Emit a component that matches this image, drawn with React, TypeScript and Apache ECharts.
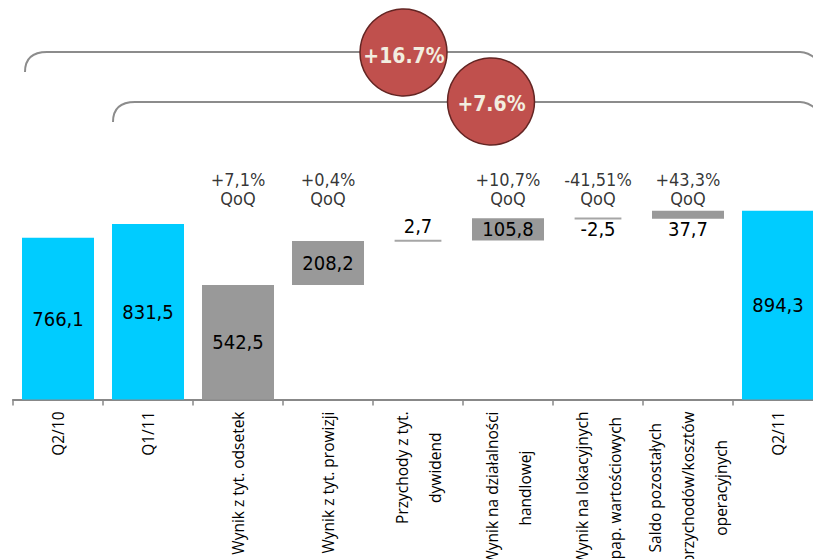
import React, { useEffect, useRef } from 'react';
import * as echarts from 'echarts';

const categories = [
  'Q2/10',
  'Q1/11',
  'Wynik z tyt. odsetek',
  'Wynik z tyt. prowizji',
  'Przychody z tyt.\ndywidend',
  'Wynik na działalności\nhandlowej',
  'Wynik na lokacyjnych\npap. wartościowych',
  'Saldo pozostałych\nprzychodów/kosztów\noperacyjnych',
  'Q2/11',
];
const totalValues: (number | null)[] = [766.1, 831.5, null, null, null, null, null, null, 894.3];
const deltaValues: (number | null)[] = [null, null, 542.5, 208.2, 2.7, 105.8, -2.5, 37.7, null];
const qoqLabels = ['', '', '+7,1%', '+0,4%', '', '+10,7%', '-41,51%', '+43,3%', ''];
const badgeLabels = ['+16.7%', '+7.6%'];

const NUM_FONT = '"DejaVu Sans Condensed", "DejaVu Sans", sans-serif';
const AXIS_FONT = '"Open Sans", "Noto Sans", sans-serif';
const QOQ_Y = 1000;

const fmt = (v: number) => String(v).replace('.', ',');

echarts.graphic.registerShape(
  'bracket1',
  echarts.graphic.extendPath('M25 72 Q25 52 47 52 L800 52 Q808 52 816 59', {})
);
echarts.graphic.registerShape(
  'bracket2',
  echarts.graphic.extendPath('M113 122 Q113 102 135 102 L800 102 Q808 102 816 109', {})
);

export default function App() {
  const ref = useRef<HTMLDivElement>(null);
  useEffect(() => {
    if (!ref.current) return;
    document.body.style.overflow = 'hidden';
    document.documentElement.style.overflow = 'hidden';
    const chart = echarts.init(ref.current, null, { renderer: 'svg' });

    // waterfall data built from deltas
    const deltaData: number[][] = [];
    let run = 0;
    deltaValues.forEach((d, i) => {
      if (d == null) return;
      const base = run;
      run += d;
      deltaData.push([i, base, run, d]);
    });

    const qoqData = qoqLabels
      .map((t, i) => (t ? { name: t, value: [i, QOQ_Y] } : null))
      .filter(Boolean);

    const option: any = {
      animation: false,
      grid: {
        left: 13,
        right: 0,
        top: 167.4,
        bottom: 159.5,
        containLabel: false,
        outerBoundsMode: 'none',
      },
      xAxis: {
        type: 'category',
        data: categories,
        boundaryGap: true,
        axisLine: { lineStyle: { color: '#888', width: 2 } },
        axisTick: { show: true, length: 6, lineStyle: { color: '#888', width: 1.5 } },
        axisLabel: {
          rotate: 90,
          interval: 0,
          margin: 12,
          color: '#000',
          formatter: (v: string) =>
            v
              .split('\n')
              .map((l) => `{a|${l}}`)
              .join('\n'),
          rich: {
            a: {
              align: 'center',
              fontSize: 15.5,
              lineHeight: 33,
              fontFamily: AXIS_FONT,
              color: '#000',
            },
          },
        },
      },
      yAxis: { type: 'value', min: 0, max: 1100, show: false, splitLine: { show: false } },
      series: [
        {
          type: 'bar',
          data: totalValues.map((v) => (v == null ? '-' : v)),
          barWidth: '80%',
          itemStyle: { color: '#00CCFF' },
          label: {
            show: true,
            position: 'inside',
            formatter: (p: any) => fmt(p.value),
            fontSize: 20,
            fontFamily: NUM_FONT,
            color: '#000',
          },
        },
        {
          type: 'custom',
          data: deltaData,
          encode: { x: 0, y: [1, 2] },
          renderItem: (params: any, api: any) => {
            const i = api.value(0);
            const b = api.value(1);
            const e = api.value(2);
            const d = api.value(3);
            const p0 = api.coord([i, b]);
            const p1 = api.coord([i, e]);
            const catW = api.size([1, 0])[0];
            const thin = Math.abs(d) < 10;
            const w = thin ? catW * 0.52 : catW * 0.8;
            const x = p0[0];
            let top = Math.min(p0[1], p1[1]);
            let h = Math.abs(p0[1] - p1[1]);
            if (thin) {
              const c = (p0[1] + p1[1]) / 2;
              top = c - 1;
              h = 2;
            }
            const children: any[] = [
              {
                type: 'rect',
                shape: { x: x - w / 2, y: top, width: w, height: h },
                style: { fill: thin ? '#A6A6A6' : '#999999' },
              },
            ];
            let ly = top + h / 2;
            let va = 'middle';
            if (thin && d > 0) {
              ly = top - 4;
              va = 'bottom';
            } else if (thin || h < 16) {
              ly = top + h;
              va = 'top';
            }
            children.push({
              type: 'text',
              style: {
                text: fmt(d),
                x,
                y: ly,
                align: 'center',
                verticalAlign: va,
                fontSize: 20,
                fontFamily: NUM_FONT,
                fill: '#000',
              },
            });
            return { type: 'group', children };
          },
        },
        {
          type: 'scatter',
          data: qoqData,
          symbolSize: 0,
          silent: true,
          label: {
            show: true,
            position: 'inside',
            formatter: (p: any) => `${p.name}\nQoQ`,
            fontSize: 18,
            lineHeight: 19,
            fontFamily: NUM_FONT,
            color: '#000',
          },
        },
      ],
      graphic: [
        { type: 'bracket1', x: 0, y: 0, z: 1, style: { fill: 'none', stroke: '#8C8C8C', lineWidth: 2 } },
        { type: 'bracket2', x: 0, y: 0, z: 1, style: { fill: 'none', stroke: '#8C8C8C', lineWidth: 2 } },
        {
          type: 'circle',
          z: 2,
          shape: { cx: 403.5, cy: 52.5, r: 43.5 },
          style: { fill: '#C0504D', stroke: '#632523', lineWidth: 1.5 },
        },
        {
          type: 'text',
          z: 3,
          style: {
            text: badgeLabels[0],
            x: 404,
            y: 55.5,
            align: 'center',
            verticalAlign: 'middle',
            fontSize: 21,
            fontWeight: 'bold',
            fontFamily: NUM_FONT,
            fill: '#F2EEE0',
          },
        },
        {
          type: 'circle',
          z: 2,
          shape: { cx: 491, cy: 101.5, r: 43.5 },
          style: { fill: '#C0504D', stroke: '#632523', lineWidth: 1.5 },
        },
        {
          type: 'text',
          z: 3,
          style: {
            text: badgeLabels[1],
            x: 491.5,
            y: 103.5,
            align: 'center',
            verticalAlign: 'middle',
            fontSize: 21,
            fontWeight: 'bold',
            fontFamily: NUM_FONT,
            fill: '#F2EEE0',
          },
        },
      ],
    };
    chart.setOption(option);
    return () => chart.dispose();
  }, []);
  return (
    <div
      ref={ref}
      style={{ position: 'fixed', left: 0, top: 0, width: 823, height: 559, background: '#fff' }}
    />
  );
}
